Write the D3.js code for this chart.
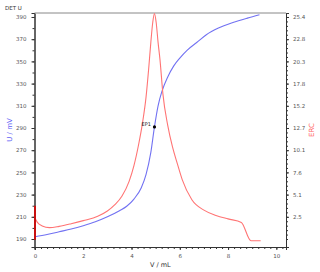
<!DOCTYPE html>
<html><head><meta charset="utf-8">
<script src="https://cdn.jsdelivr.net/npm/d3@7"></script>
<style>body{margin:0;background:#fff}svg{display:block}</style>
</head><body>
<script>
// ---- data ----
const volX = [0,0.5,1,1.5,2,2.5,3,3.5,3.8,4.1,4.4,4.6,4.8,4.95,5.1,5.26,5.5,5.75,6.0,6.3,6.7,7.1,7.6,8.2,8.8,9.3];
const uMV  = [192,194,196.5,199,202,205.5,210,215.5,219.5,226,236,248,268,291,310,323,336,346,353,360,367,374,380,385,389,392];
const ercX = [0,0.1,0.3,0.6,1.0,1.5,2.0,2.6,3.0,3.3,3.6,3.9,4.1,4.3,4.45,4.6,4.72,4.8,4.88,4.95,5.02,5.1,5.18,5.3,5.5,5.7,5.9,6.1,6.5,7.0,7.5,8.0,8.55,8.95,9.35];
const ercV = [2.4,1.9,1.5,1.3,1.45,1.75,2.1,2.6,3.2,3.9,4.9,6.6,8.4,10.9,13.2,16.2,19.8,22.5,24.8,25.8,24.8,22.5,20.5,16.6,13.0,10.5,8.6,6.8,4.5,3.3,2.7,2.3,1.9,-0.2,-0.2];
const startSegX = [0,0];
const startSegV = [-0.1,3.8];
const ep = {label:"EP1", x:4.95, u:291};
const leftTicks = [190,210,230,250,270,290,310,330,350,370,390];
const rightTickVals = [2.54,5.08,7.62,10.16,12.7,15.24,17.78,20.32,22.86,25.4];
const rightTickLabels = ["2.5","5.1","7.6","10.1","12.7","15.2","17.8","20.3","22.8","25.4"];
const bottomTicks = [0,2,4,6,8,10];
const titleText = "DET U", yLeftLabel = "U / mV", yRightLabel = "ERC", xLabel = "V / mL";

// ---- layout ----
const W=320,H=272, L=34.5, R=286, T=13, B=247;
const svg = d3.select("body").append("svg").attr("width",W).attr("height",H)
  .style("font-family","'DejaVu Sans', sans-serif");
const x = d3.scaleLinear().domain([-0.02,10.4]).range([L,R]);
const yL = d3.scaleLinear().domain([182.8,393.6]).range([B,T]);
const yR = d3.scaleLinear().domain([(182.8-190)*0.127,(393.6-190)*0.127]).range([B,T]);

const axisCol="#333", tickTxt="#555", fs="5.5px";
function minor(axis, scale, vals, len){
  return axis(scale).tickValues(vals).tickSize(len).tickFormat("");
}
const gx = svg.append("g").attr("transform",`translate(0,${B})`);
gx.call(minor(d3.axisBottom, x, d3.range(0,10.26,0.25), 2));
gx.append("g").call(d3.axisBottom(x).tickValues(bottomTicks).tickSize(3).tickFormat(d3.format("d")));
const gl = svg.append("g").attr("transform",`translate(${L},0)`);
gl.call(minor(d3.axisLeft, yL, d3.range(190,394,10), 2));
gl.append("g").call(d3.axisLeft(yL).tickValues(leftTicks).tickSize(3).tickPadding(5));
const gr = svg.append("g").attr("transform",`translate(${R},0)`);
gr.call(minor(d3.axisRight, yR, d3.range(0,25.9,0.508), 2));
gr.append("g").call(d3.axisRight(yR).tickValues(rightTickVals).tickSize(3).tickPadding(4)
  .tickFormat((d,i)=>rightTickLabels[i]));
svg.selectAll(".domain").attr("stroke",axisCol);
svg.selectAll(".tick line").attr("stroke",axisCol);
svg.selectAll(".tick text").attr("fill",tickTxt).style("font-size",fs).style("font-family","'DejaVu Sans', sans-serif");
gx.selectAll(".tick text").attr("dy","0.9em");
svg.append("line").attr("x1",L).attr("x2",R).attr("y1",T).attr("y2",T).attr("stroke","#888").attr("stroke-width",1);

// curves
svg.append("defs").append("clipPath").attr("id","clip").append("rect")
  .attr("x",L).attr("y",T-1).attr("width",R-L).attr("height",B-T+1);
const plot = svg.append("g").attr("clip-path","url(#clip)");
const blueLine = d3.line().x(i=>x(volX[i])).y(i=>yL(uMV[i])).curve(d3.curveMonotoneX);
plot.append("path").attr("d",blueLine(d3.range(volX.length))).attr("fill","none")
  .attr("stroke","#7272f2").attr("stroke-width",1.1);
const redLine = d3.line().x(i=>x(ercX[i])).y(i=>yR(ercV[i])).curve(d3.curveMonotoneX);
plot.append("path").attr("d",redLine(d3.range(ercX.length))).attr("fill","none")
  .attr("stroke","#ff7474").attr("stroke-width",1.1);
const segLine = d3.line().x(i=>x(startSegX[i])).y(i=>yR(startSegV[i]));
svg.append("path").attr("d",segLine([0,1])).attr("fill","none")
  .attr("stroke","#c81010").attr("stroke-width",2);

// EP
svg.append("circle").attr("cx",x(ep.x)).attr("cy",yL(ep.u)).attr("r",1.6).attr("fill","#000");
svg.append("text").attr("x",x(ep.x)-3.5).attr("y",yL(ep.u)-1).attr("text-anchor","end")
  .style("font-size","5px").attr("fill","#222").text(ep.label);

// labels
svg.append("text").attr("x",5).attr("y",10).style("font-size","5.5px").attr("fill","#333").text(titleText);
svg.append("text").attr("transform",`translate(12,${(T+B)/2}) rotate(-90)`).attr("text-anchor","middle")
  .style("font-size","7px").attr("fill","#6060f5").text(yLeftLabel);
svg.append("text").attr("transform",`translate(314,${(T+B)/2}) rotate(-90)`).attr("text-anchor","middle")
  .style("font-size","7px").attr("fill","#ff6060").text(yRightLabel);
svg.append("text").attr("x",(L+R)/2).attr("y",267).attr("text-anchor","middle")
  .style("font-size","6.5px").attr("fill","#333").text(xLabel);
</script>
</body></html>
